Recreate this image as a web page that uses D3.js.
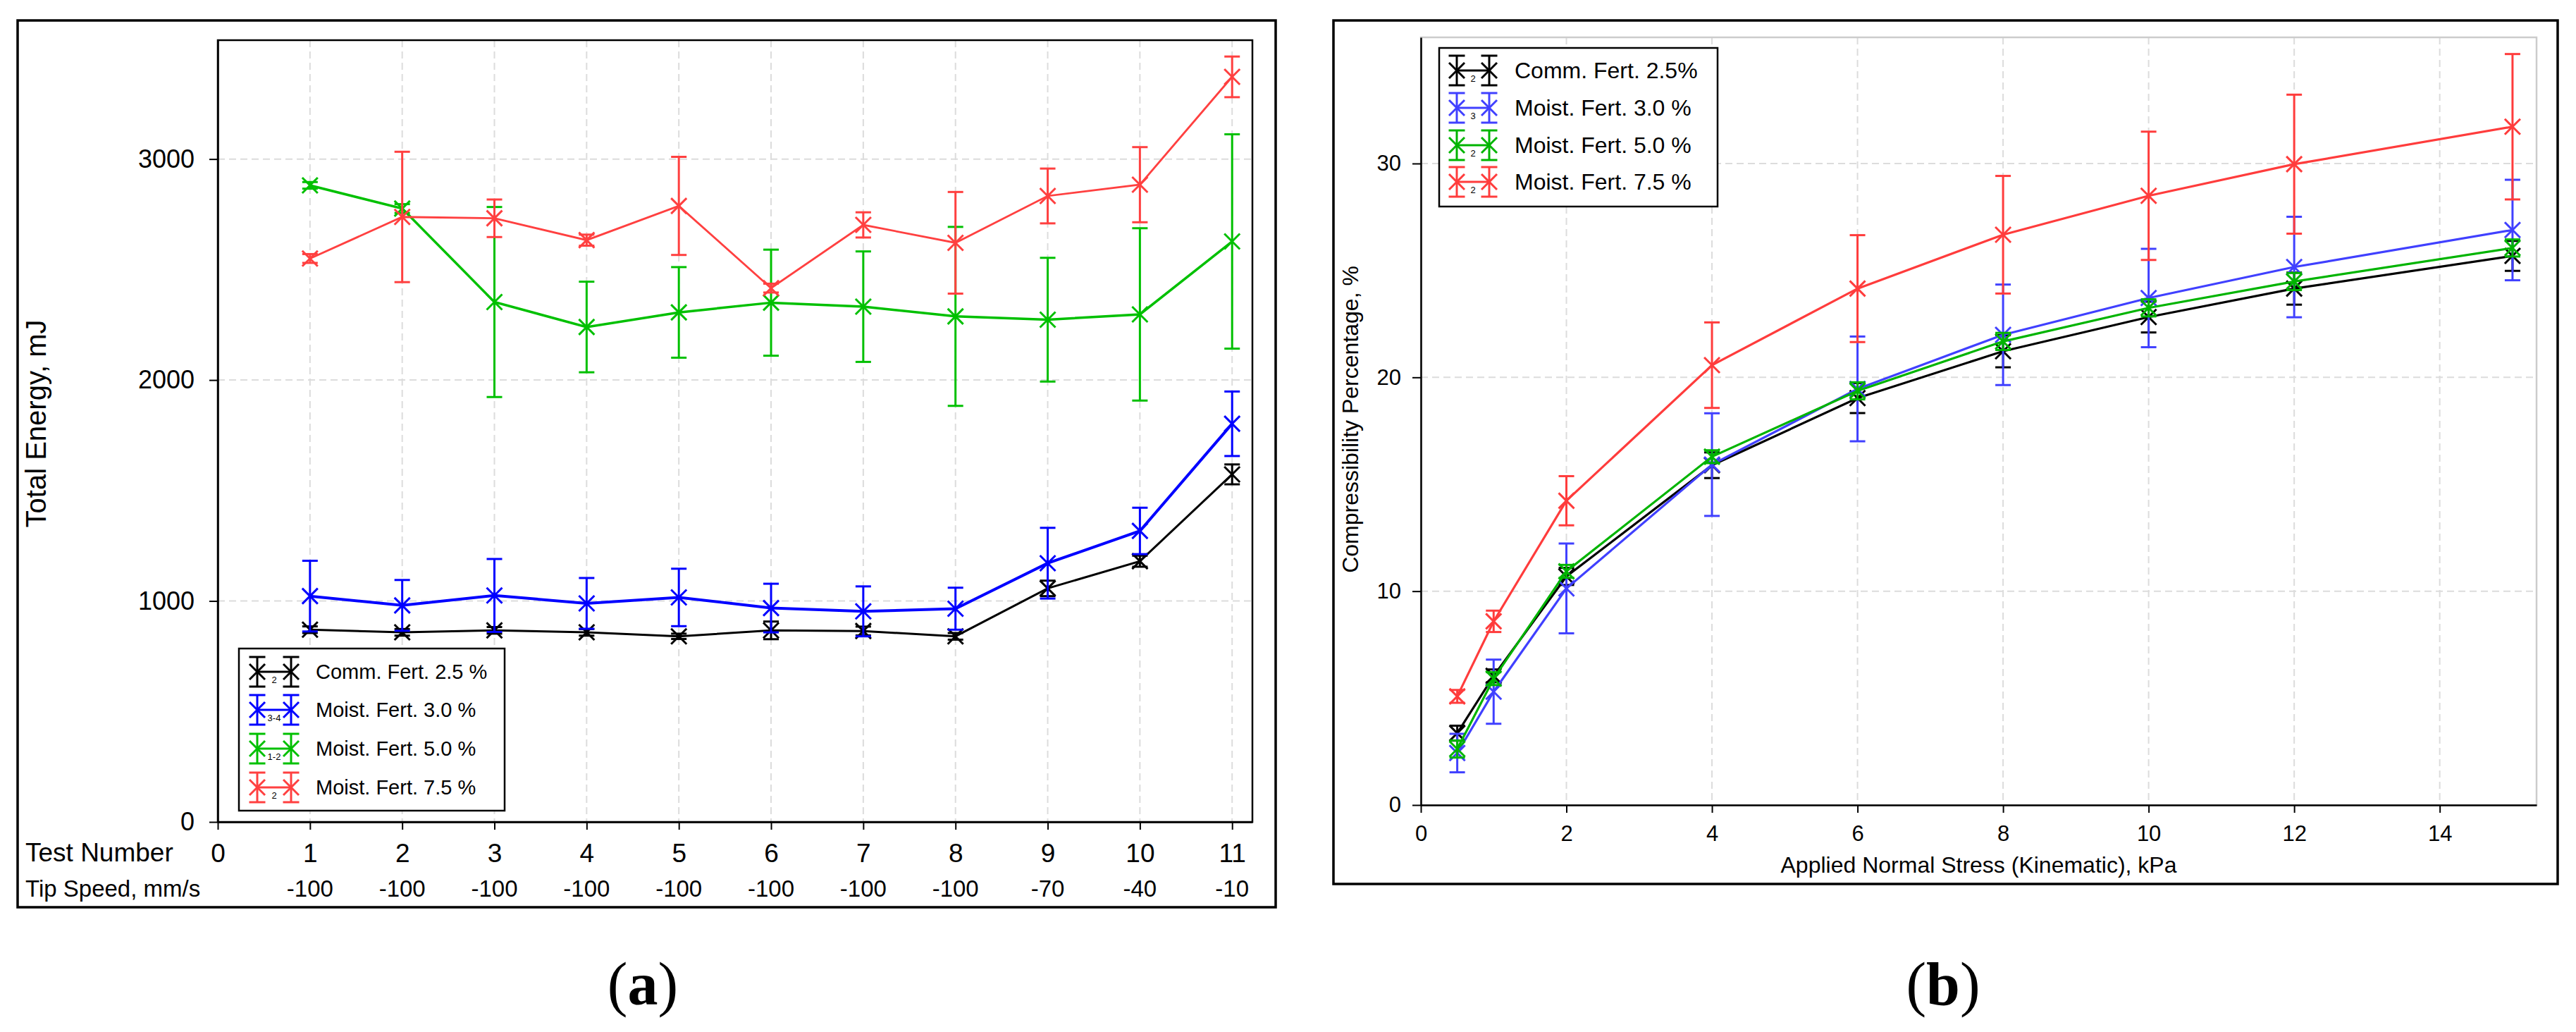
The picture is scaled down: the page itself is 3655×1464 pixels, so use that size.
<!DOCTYPE html>
<html>
<head>
<meta charset="utf-8">
<script src="https://cdn.jsdelivr.net/npm/d3@7"></script>
<style>
  body { margin: 0; background: #fff; }
  svg { display: block; }
  text { font-family: "Liberation Sans", Arial, sans-serif; fill: #000; }
</style>
</head>
<body>
<svg id="fig" width="3655" height="1464"></svg>
<script>
// ---- panel (a) data ----
const testNumber = [1, 2, 3, 4, 5, 6, 7, 8, 9, 10, 11];
const tipSpeed = [-100, -100, -100, -100, -100, -100, -100, -100, -70, -40, -10];

const energyComm25 = [870, 858, 867, 858, 840, 867, 864, 840, 1057, 1180, 1573];
const energyComm25Err = [15, 15, 15, 15, 12, 40, 20, 15, 35, 25, 45];
const energyMoist30 = [1022, 980, 1025, 989, 1016, 968, 953, 965, 1171, 1317, 1802];
const energyMoist30Err = [160, 115, 165, 115, 130, 110, 113, 95, 160, 105, 146];
const energyMoist50 = [2881, 2776, 2353, 2240, 2306, 2350, 2332, 2288, 2273, 2297, 2627];
const energyMoist50Err = [15, 20, 430, 205, 205, 240, 250, 405, 280, 390, 485];
const energyMoist75 = [2550, 2738, 2732, 2633, 2788, 2416, 2702, 2621, 2833, 2884, 3372];
const energyMoist75Err = [20, 295, 85, 25, 222, 20, 57, 230, 124, 170, 92];

const energyLegend = ["Comm. Fert. 2.5 %", "Moist. Fert. 3.0 %", "Moist. Fert. 5.0 %", "Moist. Fert. 7.5 %"];
const energyReps = ["2", "3-4", "1-2", "2"];
const energyTicksY = [0, 1000, 2000, 3000];

// ---- panel (b) data ----
const stress = [0.5, 1, 2, 4, 6, 8, 10, 12, 15];

const compComm25 = [3.36, 6.04, 10.69, 15.89, 19.03, 21.22, 22.82, 24.15, 25.68];
const compComm25Err = [0.35, 0.3, 0.4, 0.6, 0.7, 0.75, 0.72, 0.75, 0.7];
const compMoist30 = [2.43, 5.3, 10.13, 15.92, 19.46, 21.99, 23.71, 25.16, 26.89];
const compMoist30Err = [0.9, 1.5, 2.1, 2.4, 2.45, 2.35, 2.3, 2.35, 2.35];
const compMoist50 = [2.62, 5.91, 10.93, 16.29, 19.37, 21.68, 23.25, 24.48, 26.05];
const compMoist50Err = [0.4, 0.3, 0.3, 0.3, 0.4, 0.4, 0.4, 0.4, 0.4];
const compMoist75 = [5.08, 8.59, 14.23, 20.57, 24.15, 26.67, 28.49, 29.97, 31.72];
const compMoist75Err = [0.3, 0.5, 1.15, 2.0, 2.5, 2.75, 3.0, 3.25, 3.4];

const compLegend = ["Comm. Fert. 2.5%", "Moist. Fert. 3.0 %", "Moist. Fert. 5.0 %", "Moist. Fert. 7.5 %"];
const compReps = ["2", "3", "2", "2"];
const compTicksX = [0, 2, 4, 6, 8, 10, 12, 14];
const compTicksY = [0, 10, 20, 30];

const colorsA = ["#000000", "#0000ff", "#00c000", "#ff4040"];
const colorsB = ["#000000", "#4040ff", "#00b400", "#ff3c3c"];

const svg = d3.select("#fig");

// draws line + error bars + x markers for one series
function drawSeries(g, x, y, xs, ys, es, color, lw) {
  const pts = xs.map((d, i) => ({ x: d, y: ys[i], e: es[i] }));
  const line = d3.line().x((d) => x(d.x)).y((d) => y(d.y));
  g.append("path").datum(pts)
    .attr("d", line).attr("fill", "none")
    .attr("stroke", color).attr("stroke-width", lw);

  const cap = 11, m = 11;
  const s = g.append("g").attr("stroke", color).attr("stroke-width", 3);
  pts.forEach((d) => {
    const cx = x(d.x), cy = y(d.y);
    const top = y(d.y + d.e), bot = y(d.y - d.e);
    s.append("line").attr("x1", cx).attr("x2", cx).attr("y1", top).attr("y2", bot);
    s.append("line").attr("x1", cx - cap).attr("x2", cx + cap).attr("y1", top).attr("y2", top);
    s.append("line").attr("x1", cx - cap).attr("x2", cx + cap).attr("y1", bot).attr("y2", bot);
    s.append("line").attr("x1", cx - m).attr("x2", cx + m).attr("y1", cy - m).attr("y2", cy + m);
    s.append("line").attr("x1", cx - m).attr("x2", cx + m).attr("y1", cy + m).attr("y2", cy - m);
  });
}

// legend symbol: two error-bar markers joined by a line, with a small rep count
function legendSymbol(g, x1, x2, cy, color, rep) {
  const h = 21, cap = 11.5, m = 11;
  g.append("line").attr("x1", x1).attr("x2", x2).attr("y1", cy).attr("y2", cy)
    .attr("stroke", color).attr("stroke-width", 3);
  [x1, x2].forEach((cx) => {
    const s = g.append("g").attr("stroke", color).attr("stroke-width", 3);
    s.append("line").attr("x1", cx).attr("x2", cx).attr("y1", cy - h).attr("y2", cy + h);
    s.append("line").attr("x1", cx - cap).attr("x2", cx + cap).attr("y1", cy - h).attr("y2", cy - h);
    s.append("line").attr("x1", cx - cap).attr("x2", cx + cap).attr("y1", cy + h).attr("y2", cy + h);
    s.append("line").attr("x1", cx - m).attr("x2", cx + m).attr("y1", cy - m).attr("y2", cy + m);
    s.append("line").attr("x1", cx - m).attr("x2", cx + m).attr("y1", cy + m).attr("y2", cy - m);
  });
  g.append("text").attr("x", (x1 + x2) / 2).attr("y", cy + 16)
    .attr("text-anchor", "middle").attr("font-size", "13px").text(rep);
}

function styleAxis(g, size) {
  g.select(".domain").attr("stroke", "#000").attr("stroke-width", 2.5);
  g.selectAll(".tick line").attr("stroke", "#000").attr("stroke-width", 2);
  g.selectAll(".tick text").attr("font-size", size + "px").attr("fill", "#000")
    .attr("font-family", '"Liberation Sans", Arial, sans-serif');
}

// ================= panel (a) =================
{
  const m = { left: 309, right: 1777, top: 57, bottom: 1166 };
  const x = d3.scaleLinear().domain([0, 11.22]).range([m.left, m.right]);
  const y = d3.scaleLinear().domain([0, 3538]).range([m.bottom, m.top]);
  const g = svg.append("g");

  g.append("rect").attr("x", 25).attr("y", 29).attr("width", 1785).attr("height", 1258)
    .attr("fill", "none").attr("stroke", "#000").attr("stroke-width", 3.5);

  // grid
  g.append("g").selectAll("line").data(testNumber).join("line")
    .attr("x1", (d) => x(d)).attr("x2", (d) => x(d))
    .attr("y1", m.top).attr("y2", m.bottom)
    .attr("stroke", "#dcdcdc").attr("stroke-width", 2).attr("stroke-dasharray", "10,6");
  g.append("g").selectAll("line").data(energyTicksY.slice(1)).join("line")
    .attr("x1", m.left).attr("x2", m.right)
    .attr("y1", (d) => y(d)).attr("y2", (d) => y(d))
    .attr("stroke", "#dcdcdc").attr("stroke-width", 2).attr("stroke-dasharray", "10,6");

  g.append("rect").attr("x", m.left).attr("y", m.top)
    .attr("width", m.right - m.left).attr("height", m.bottom - m.top)
    .attr("fill", "none").attr("stroke", "#000").attr("stroke-width", 2.5);

  g.append("g").attr("transform", `translate(0,${m.bottom})`)
    .call(d3.axisBottom(x).tickValues([0].concat(testNumber)).tickFormat(d3.format("d"))
      .tickSize(11).tickSizeOuter(0).tickPadding(20))
    .call((a) => styleAxis(a, 37));
  g.append("g").attr("transform", `translate(${m.left},0)`)
    .call(d3.axisLeft(y).tickValues(energyTicksY).tickFormat(d3.format("d"))
      .tickSize(12).tickSizeOuter(0).tickPadding(21))
    .call((a) => styleAxis(a, 36));

  g.append("text").attr("x", 36).attr("y", 1222).attr("font-size", "37px").text("Test Number");
  g.append("text").attr("x", 36).attr("y", 1272).attr("font-size", "33px").text("Tip Speed, mm/s");
  g.append("g").selectAll("text").data(tipSpeed).join("text")
    .attr("x", (d, i) => x(testNumber[i])).attr("y", 1272)
    .attr("text-anchor", "middle").attr("font-size", "33px").text((d) => d);

  g.append("text").attr("transform", "translate(65,601) rotate(-90)")
    .attr("text-anchor", "middle").attr("font-size", "40px").text("Total Energy, mJ");

  const series = [
    [energyComm25, energyComm25Err],
    [energyMoist30, energyMoist30Err],
    [energyMoist50, energyMoist50Err],
    [energyMoist75, energyMoist75Err],
  ];
  const lws = [3, 4, 3.5, 2.8];
  series.forEach((s, i) => drawSeries(g.append("g"), x, y, testNumber, s[0], s[1], colorsA[i], lws[i]));

  // legend
  const lg = g.append("g");
  lg.append("rect").attr("x", 339).attr("y", 920).attr("width", 377).attr("height", 230)
    .attr("fill", "#fff").attr("stroke", "#000").attr("stroke-width", 2.5);
  const rowsA = [953, 1007, 1062, 1117];
  energyLegend.forEach((t, i) => {
    legendSymbol(lg, 365, 413, rowsA[i], colorsA[i], energyReps[i]);
    lg.append("text").attr("x", 448).attr("y", rowsA[i] + 9.5).attr("font-size", "29px").text(t);
  });

  const cap = g.append("text").attr("x", 912).attr("y", 1425).attr("text-anchor", "middle")
    .attr("font-size", "86px").style("font-family", '"Liberation Serif", "Times New Roman", serif');
  cap.append("tspan").text("(");
  cap.append("tspan").attr("font-weight", "bold").text("a");
  cap.append("tspan").text(")");
}

// ================= panel (b) =================
{
  const m = { left: 2016, right: 3599, top: 53, bottom: 1142 };
  const x = d3.scaleLinear().domain([0, 15.33]).range([m.left, m.right]);
  const y = d3.scaleLinear().domain([0, 35.9]).range([m.bottom, m.top]);
  const g = svg.append("g");

  g.append("rect").attr("x", 1892).attr("y", 29).attr("width", 1737).attr("height", 1225)
    .attr("fill", "none").attr("stroke", "#000").attr("stroke-width", 3.5);

  g.append("g").selectAll("line").data(compTicksX.slice(1)).join("line")
    .attr("x1", (d) => x(d)).attr("x2", (d) => x(d))
    .attr("y1", m.top).attr("y2", m.bottom)
    .attr("stroke", "#dcdcdc").attr("stroke-width", 2).attr("stroke-dasharray", "10,6");
  g.append("g").selectAll("line").data(compTicksY.slice(1)).join("line")
    .attr("x1", m.left).attr("x2", m.right)
    .attr("y1", (d) => y(d)).attr("y2", (d) => y(d))
    .attr("stroke", "#dcdcdc").attr("stroke-width", 2).attr("stroke-dasharray", "10,6");

  g.append("rect").attr("x", m.left).attr("y", m.top)
    .attr("width", m.right - m.left).attr("height", m.bottom - m.top)
    .attr("fill", "none").attr("stroke", "#cccccc").attr("stroke-width", 2.5);

  g.append("g").attr("transform", `translate(0,${m.bottom})`)
    .call(d3.axisBottom(x).tickValues(compTicksX).tickFormat(d3.format("d"))
      .tickSize(11).tickSizeOuter(0).tickPadding(18))
    .call((a) => styleAxis(a, 31));
  g.append("g").attr("transform", `translate(${m.left},0)`)
    .call(d3.axisLeft(y).tickValues(compTicksY).tickFormat(d3.format("d"))
      .tickSize(12).tickSizeOuter(0).tickPadding(16))
    .call((a) => styleAxis(a, 31));

  g.append("text").attr("x", (m.left + m.right) / 2).attr("y", 1238)
    .attr("text-anchor", "middle").attr("font-size", "32px")
    .text("Applied Normal Stress (Kinematic), kPa");
  g.append("text").attr("transform", "translate(1927,595) rotate(-90)")
    .attr("text-anchor", "middle").attr("font-size", "32px").text("Compressibility Percentage, %");

  const series = [
    [compComm25, compComm25Err],
    [compMoist30, compMoist30Err],
    [compMoist50, compMoist50Err],
    [compMoist75, compMoist75Err],
  ];
  series.forEach((s, i) => drawSeries(g.append("g"), x, y, stress, s[0], s[1], colorsB[i], 3.2));

  const lg = g.append("g");
  lg.append("rect").attr("x", 2042).attr("y", 68).attr("width", 395).attr("height", 225)
    .attr("fill", "#fff").attr("stroke", "#000").attr("stroke-width", 2.5);
  const rowsB = [100, 153, 206, 258];
  compLegend.forEach((t, i) => {
    legendSymbol(lg, 2067, 2113, rowsB[i], colorsB[i], compReps[i]);
    lg.append("text").attr("x", 2149).attr("y", rowsB[i] + 11).attr("font-size", "32px").text(t);
  });

  const cap = g.append("text").attr("x", 2757).attr("y", 1425).attr("text-anchor", "middle")
    .attr("font-size", "86px").style("font-family", '"Liberation Serif", "Times New Roman", serif');
  cap.append("tspan").text("(");
  cap.append("tspan").attr("font-weight", "bold").text("b");
  cap.append("tspan").text(")");
}
</script>
</body>
</html>
